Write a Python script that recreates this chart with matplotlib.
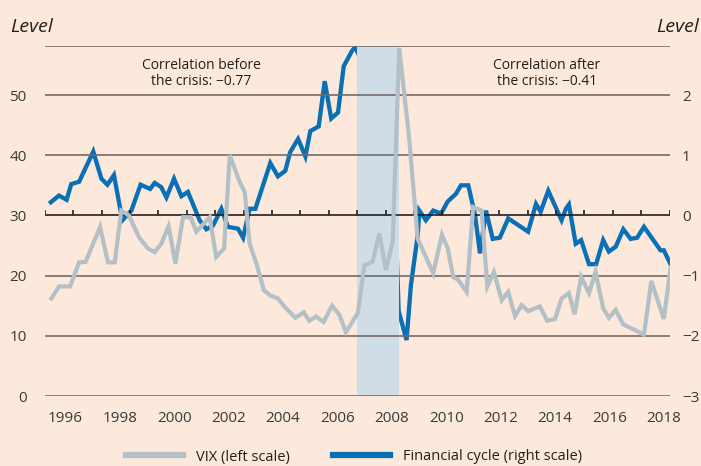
import matplotlib
matplotlib.use("Agg")
import matplotlib.pyplot as plt
import numpy as np

plt.rcParams['font.family'] = ['Open Sans', 'DejaVu Sans']

# ---- data ----
vix_years = [1995.48, 1995.76, 1996.17, 1996.50, 1996.74, 1997.27, 1997.56, 1997.81, 1998.05, 1998.33,
             1998.70, 1999.03, 1999.28, 1999.52, 1999.79, 2000.04, 2000.32, 2000.60, 2000.81, 2001.30,
             2001.54, 2001.83, 2002.04, 2002.40, 2002.59, 2002.77, 2003.04, 2003.29, 2003.53, 2003.81,
             2004.08, 2004.45, 2004.76, 2004.96, 2005.21, 2005.49, 2005.80, 2006.07, 2006.31, 2006.75,
             2006.99, 2007.29, 2007.54, 2007.78, 2008.03, 2008.27, 2008.64, 2008.95, 2009.52, 2009.84,
             2010.05, 2010.26, 2010.42, 2010.75, 2010.99, 2011.30, 2011.51, 2011.75, 2012.04, 2012.28,
             2012.53, 2012.77, 2013.01, 2013.44, 2013.71, 2014.00, 2014.24, 2014.51, 2014.72, 2014.96,
             2015.25, 2015.49, 2015.77, 2015.98, 2016.23, 2016.51, 2017.27, 2017.54, 2018.00, 2018.25]
vix_values = [16.2, 18.2, 18.2, 22.2, 22.3, 28.1, 22.2, 22.2, 30.8, 30.0,
              26.4, 24.5, 23.9, 25.3, 28.2, 22.0, 29.7, 29.7, 27.3, 29.7,
              23.1, 24.5, 40.0, 35.6, 33.9, 25.3, 21.7, 17.6, 16.7, 16.2,
              14.7, 13.0, 13.9, 12.5, 13.2, 12.3, 15.0, 13.5, 10.6, 13.8,
              21.7, 22.3, 27.0, 20.9, 25.6, 57.8, 42.7, 26.1, 20.4, 26.8,
              24.6, 19.7, 19.4, 17.3, 31.4, 30.8, 18.2, 20.6, 15.9, 17.3,
              13.3, 15.1, 14.1, 14.9, 12.5, 12.8, 16.2, 17.1, 13.6, 19.8,
              17.1, 20.6, 14.6, 13.0, 14.3, 11.9, 10.2, 19.1, 12.8, 21.3]

fc_years = [1995.46, 1995.76, 1996.04, 1996.21, 1996.50, 1997.02, 1997.32, 1997.54, 1997.78, 1998.09,
            1998.42, 1998.76, 1999.11, 1999.28, 1999.52, 1999.71, 1999.99, 2000.26, 2000.50, 2000.93,
            2001.18, 2001.42, 2001.73, 2001.97, 2002.34, 2002.53, 2002.77, 2002.98, 2003.53, 2003.81,
            2004.08, 2004.26, 2004.55, 2004.82, 2005.00, 2005.31, 2005.53, 2005.77, 2006.02, 2006.23,
            2006.53, 2006.65, 2006.86, 2007.05, 2007.23, 2007.48, 2007.78, 2007.97, 2008.09, 2008.18,
            2008.25, 2008.54, 2008.70, 2008.95, 2009.01, 2009.25, 2009.52, 2009.81, 2010.05, 2010.36,
            2010.54, 2010.81, 2011.06, 2011.24, 2011.46, 2011.71, 2011.97, 2012.28, 2013.01, 2013.30,
            2013.47, 2013.75, 2014.24, 2014.40, 2014.51, 2014.76, 2014.96, 2015.25, 2015.51, 2015.77,
            2015.98, 2016.23, 2016.51, 2016.78, 2017.02, 2017.27, 2017.88, 2018.00, 2018.27]
fc_values = [0.22, 0.33, 0.26, 0.52, 0.56, 1.06, 0.61, 0.51, 0.67, -0.08,
             0.08, 0.51, 0.44, 0.54, 0.47, 0.30, 0.61, 0.32, 0.39, -0.08,
             -0.23, -0.17, 0.11, -0.19, -0.22, -0.37, 0.11, 0.11, 0.87, 0.65,
             0.74, 1.05, 1.27, 0.98, 1.40, 1.48, 2.23, 1.61, 1.71, 2.48,
             2.73, 2.80, 2.59, 2.34, 2.33, 1.63, 1.54, 1.02, 0.28, -0.66,
             -1.59, -2.07, -1.16, -0.33, 0.08, -0.08, 0.08, 0.03, 0.23, 0.36,
             0.50, 0.50, 0.00, -0.63, 0.08, -0.39, -0.37, -0.05, -0.27, 0.19,
             0.06, 0.41, -0.08, 0.11, 0.18, -0.47, -0.41, -0.81, -0.81, -0.41,
             -0.60, -0.52, -0.23, -0.39, -0.37, -0.19, -0.58, -0.58, -0.83]

crisis_start, crisis_end = 2006.73, 2008.26
xtick_years = list(range(1996, 2019, 2))
left_ticks = [0, 10, 20, 30, 40, 50]
right_ticks = [-3, -2, -1, 0, 1, 2]
labels = ["VIX (left scale)", "Financial cycle (right scale)"]
annot_before = "Correlation before\nthe crisis: \u22120.77"
annot_after = "Correlation after\nthe crisis: \u22120.41"

# ---- style ----
BG = '#fce9db'
BLUE = '#0a70b6'
GREY = '#b3c0c5'
SHADE = '#d0dde6'
GRID = '#746b66'
TXT = '#231f20'

fig = plt.figure(figsize=(7.01, 4.66), dpi=100, facecolor=BG)
ax = fig.add_axes([0.0638, 0.1502, 0.8913, 0.7518], facecolor=BG)
XMIN, XMAX = 1995.235, 2018.21
YMIN, YMAX = 0, 58.2
ax.set_xlim(XMIN, XMAX)
ax.set_ylim(YMIN, YMAX)

ax2 = ax.twinx()
ax2.set_ylim((YMIN - 30) / 10, (YMAX - 30) / 10)

for a in (ax, ax2):
    for s in a.spines.values():
        s.set_visible(False)

# shaded crisis period
ax.axvspan(crisis_start, crisis_end, color=SHADE, zorder=0.5, lw=0)

# gridlines
for v in left_ticks:
    ax.axhline(v, color=(TXT if v == 30 else GRID), lw=1.2, zorder=1)
ax.axhline(YMAX, color=GRID, lw=1.2, zorder=1)

# small tick marks on the zero line of the right scale
tick_pos = np.linspace(XMIN, XMAX, 23)
ax.vlines(tick_pos, 30, 30.85, color=TXT, lw=1.2, zorder=1)

# series
l2, = ax2.plot(fc_years, fc_values, color=BLUE, lw=3.1, solid_joinstyle='miter', zorder=3)
l1, = ax.plot(vix_years, vix_values, color=GREY, lw=3.0, solid_joinstyle='miter', zorder=4)
ax.set_zorder(2)
ax2.set_zorder(1)
ax.patch.set_visible(False)
ax2.patch.set_visible(False)

# ticks
ax.set_xticks(xtick_years)
ax.set_xticklabels([str(y) for y in xtick_years])
ax.set_yticks(left_ticks)
ax.set_yticklabels([str(v) for v in left_ticks])
ax2.set_yticks(right_ticks)
ax2.set_yticklabels([str(v).replace('-', '\u2212') for v in right_ticks])
ax.tick_params(axis='both', length=0, labelsize=11, colors='#3a3a3a')
ax.tick_params(axis='x', pad=11)
ax.tick_params(axis='y', pad=13)
ax2.tick_params(axis='y', length=0, labelsize=11, colors='#3a3a3a', pad=9)

# axis titles
fig.text(10 / 701, 1 - 32 / 466, "Level", fontsize=14, style='italic', color=TXT,
         ha='left', va='baseline')
fig.text(699 / 701, 1 - 32 / 466, "Level", fontsize=14, style='italic', color=TXT,
         ha='right', va='baseline')

# annotations
ax.text(2001.0, 53.6, annot_before, ha='center', va='center', fontsize=10, color=TXT,
        linespacing=1.05, zorder=5)
ax.text(2013.7, 53.6, annot_after, ha='center', va='center', fontsize=10, color=TXT,
        linespacing=1.05, zorder=5)

# legend
leg = fig.legend([l1, l2], labels, loc='center', bbox_to_anchor=(0.505, 1 - 457 / 466),
                 ncol=2, frameon=False, fontsize=10.5, handlelength=3.9, handletextpad=0.85,
                 columnspacing=3.0, labelcolor=TXT)
for h in leg.legend_handles:
    h.set_linewidth(4.5)

fig.savefig('out.png', dpi=100, facecolor=BG)
